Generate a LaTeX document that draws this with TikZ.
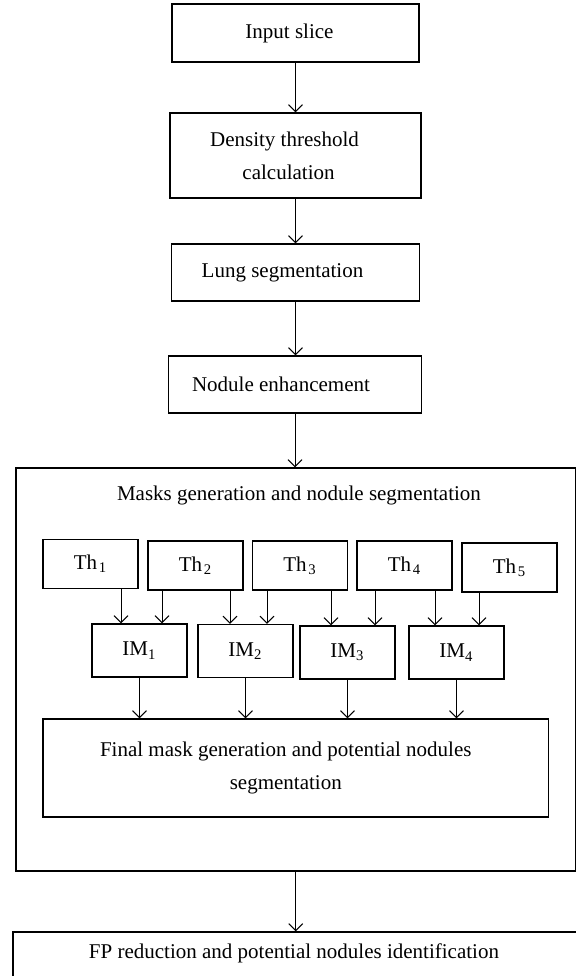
\documentclass[tikz,border=0pt]{standalone}
\usepackage{fontspec}
\setmainfont{Liberation Serif}
\usetikzlibrary{arrows.meta}
\tikzset{
  stage/.style={draw, line width=0.6pt, align=center, inner sep=0pt, font=\fontsize{10.5}{16.5}\selectfont},
  thbox/.style={stage, minimum width=47.5pt, minimum height=24.5pt},
  imbox/.style={stage, minimum width=47.5pt, minimum height=26.5pt},
  arr/.style={-{Straight Barb[length=3.5pt,width=7pt]}, line width=0.5pt},
}
\begin{document}
\begin{tikzpicture}[x=0.5pt, y=-0.5pt]
\clip (0,0) rectangle (576,976);
\node[stage, minimum width=123.5pt, minimum height=29pt] (input) at (295.5,33) {Input slice\hspace*{6pt}};
\node[stage, minimum width=125.5pt, minimum height=42.5pt] (dens) at (295.5,155.5) {Density threshold\hspace*{11pt}\\calculation\hspace*{7pt}};
\node[stage, minimum width=124pt, minimum height=28.5pt] (lung) at (295.5,272.5) {Lung segmentation\hspace*{13pt}};
\node[stage, minimum width=126.5pt, minimum height=28.5pt] (nodule) at (295,384.5) {Nodule enhancement\hspace*{14pt}};
\node[stage, minimum width=279.75pt, minimum height=201.5pt] (mask) at (295.75,669.5) {};
\node[font=\fontsize{10.5}{16.5}\selectfont] (masktitle) at (299,495) {Masks generation and nodule segmentation};
\foreach \i/\x/\y in {1/90.5/564, 2/195.5/565.5, 3/300/565.5, 4/404.5/565.5, 5/509.5/567.5}
  \node[thbox] (th\i) at (\x,\y) {Th\kern0.8pt\textsubscript{\i}};
\foreach \i/\x/\y in {1/139.5/650.5, 2/245.5/651, 3/347.5/652.5, 4/456.5/652.5}
  \node[imbox] (im\i) at (\x,\y) {IM\textsubscript{\i}};
\node[stage, minimum width=252.75pt, minimum height=49pt] (final) at (295.75,768) {Final mask generation and potential nodules\hspace*{10pt}\\segmentation\hspace*{10pt}};
\node[stage, minimum width=288.5pt, minimum height=34pt] (fp) at (301.5,966) {};
\node[font=\fontsize{10.5}{16.5}\selectfont] (fptext) at (294,953) {FP reduction and potential nodules identification};
\draw[arr] (input.south) -- (input.south |- dens.north);
\draw[arr] (dens.south) -- (dens.south |- lung.north);
\draw[arr] (lung.south) -- (lung.south |- nodule.north);
\draw[arr] (nodule.south) -- (nodule.south |- mask.north);
\foreach \a/\b/\x in {th1/im1/121, th2/im1/162, th2/im2/230, th3/im2/267, th3/im3/331, th4/im3/375, th4/im4/435, th5/im4/479}
  \draw[arr] (\a.south -| \x,0) -- (\b.north -| \x,0);
\foreach \i in {1,...,4}
  \draw[arr] (im\i.south) -- (im\i.south |- final.north);
\draw[arr] (mask.south) -- (mask.south |- fp.north);
\end{tikzpicture}
\end{document}
